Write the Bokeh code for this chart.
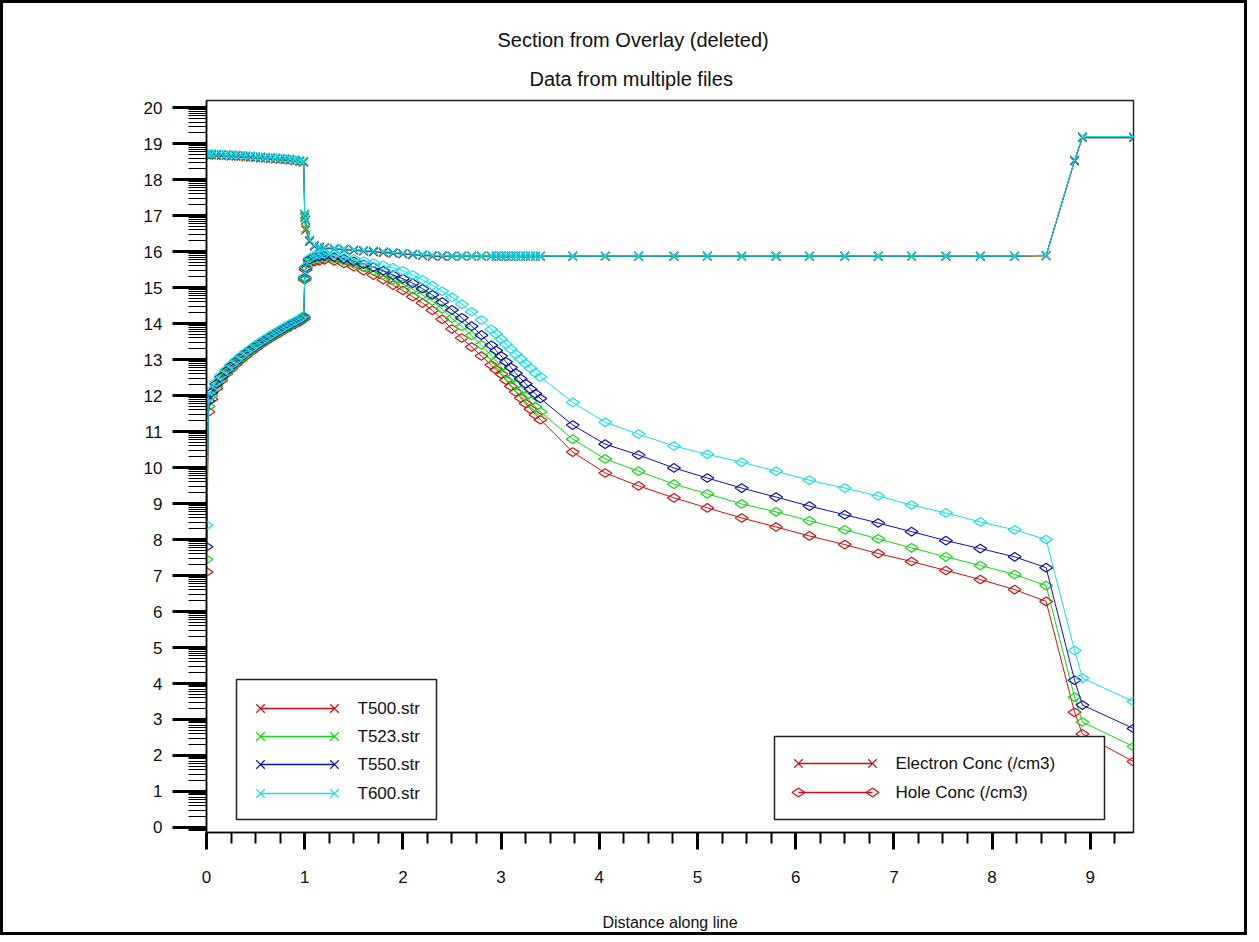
import math
from bokeh.plotting import figure
from bokeh.models import Range1d, FixedTicker, Title
from bokeh.core.properties import value
from bokeh.embed import file_html
from bokeh.resources import INLINE

# ---------------- data ----------------
FILES = ["T500.str", "T523.str", "T550.str", "T600.str"]
QUANTITIES = ["Electron Conc (/cm3)", "Hole Conc (/cm3)"]
TITLE_1 = "Section from Overlay (deleted)"
TITLE_2 = "Data from multiple files"

X = [0.0, 0.0, 0.02, 0.05, 0.1, 0.15, 0.2, 0.25, 0.3, 0.35, 0.4, 0.45, 0.5, 0.55, 0.6, 0.65, 0.7, 0.75, 0.8, 0.85, 0.9, 0.95, 0.99,
     1.0, 1.01, 1.05, 1.1, 1.15, 1.2, 1.3, 1.4, 1.5, 1.6, 1.7, 1.8, 1.9, 2.0, 2.1, 2.2, 2.3, 2.4, 2.5, 2.6, 2.7, 2.8, 2.9,
     2.95, 3.0, 3.05, 3.1, 3.15, 3.2, 3.25, 3.3, 3.35, 3.4,
     3.73, 4.06, 4.4, 4.76, 5.1, 5.45, 5.8, 6.14, 6.5, 6.84, 7.18, 7.53, 7.88, 8.23, 8.55,
     8.84, 8.92, 9.44]

ELEC_T600 = [0.0, 18.72, 18.72, 18.72, 18.71, 18.71, 18.70, 18.69, 18.69, 18.68, 18.67, 18.66, 18.65, 18.64, 18.63, 18.62, 18.61, 18.60, 18.59, 18.58, 18.56, 18.54, 18.52,
             17.05, 16.90, 16.32, 16.18, 16.14, 16.12, 16.10, 16.08, 16.06, 16.04, 16.02, 16.00, 15.98, 15.96, 15.94, 15.92, 15.90, 15.89, 15.88, 15.88, 15.88, 15.88, 15.88,
             15.88, 15.88, 15.88, 15.88, 15.88, 15.88, 15.88, 15.88, 15.88, 15.88,
             15.88, 15.88, 15.88, 15.88, 15.88, 15.88, 15.88, 15.88, 15.88, 15.88, 15.88, 15.88, 15.88, 15.88, 15.90,
             18.55, 19.20, 19.20]
ELEC_T550 = [0.0, 18.71, 18.71, 18.71, 18.70, 18.70, 18.69, 18.68, 18.68, 18.67, 18.66, 18.65, 18.64, 18.63, 18.62, 18.61, 18.60, 18.59, 18.58, 18.57, 18.55, 18.53, 18.51,
             17.04, 16.88, 16.31, 16.17, 16.13, 16.11, 16.09, 16.07, 16.05, 16.03, 16.01, 15.99, 15.97, 15.95, 15.93, 15.91, 15.89, 15.88, 15.88, 15.88, 15.88, 15.88, 15.88,
             15.88, 15.88, 15.88, 15.88, 15.88, 15.88, 15.88, 15.88, 15.88, 15.88,
             15.88, 15.88, 15.88, 15.88, 15.88, 15.88, 15.88, 15.88, 15.88, 15.88, 15.88, 15.88, 15.88, 15.88, 15.90,
             18.54, 19.19, 19.19]
ELEC_T523 = [0.0, 18.70, 18.70, 18.70, 18.69, 18.69, 18.68, 18.67, 18.67, 18.66, 18.65, 18.64, 18.63, 18.62, 18.61, 18.60, 18.59, 18.58, 18.57, 18.56, 18.54, 18.52, 18.50,
             16.98, 16.65, 16.30, 16.17, 16.13, 16.11, 16.09, 16.07, 16.05, 16.03, 16.01, 15.99, 15.97, 15.95, 15.93, 15.91, 15.89, 15.88, 15.87, 15.87, 15.87, 15.87, 15.87,
             15.87, 15.87, 15.87, 15.87, 15.87, 15.87, 15.87, 15.87, 15.87, 15.87,
             15.87, 15.87, 15.87, 15.87, 15.87, 15.87, 15.87, 15.87, 15.87, 15.87, 15.87, 15.87, 15.87, 15.87, 15.89,
             18.53, 19.18, 19.18]
ELEC_T500 = [0.0, 18.68, 18.68, 18.68, 18.67, 18.67, 18.66, 18.65, 18.65, 18.64, 18.63, 18.62, 18.61, 18.60, 18.59, 18.58, 18.57, 18.56, 18.55, 18.54, 18.52, 18.50, 18.48,
             16.95, 16.60, 16.28, 16.15, 16.11, 16.09, 16.07, 16.05, 16.03, 16.01, 15.99, 15.97, 15.95, 15.93, 15.91, 15.89, 15.87, 15.87, 15.87, 15.87, 15.87, 15.87, 15.87,
             15.87, 15.87, 15.87, 15.87, 15.87, 15.87, 15.87, 15.87, 15.87, 15.87,
             15.87, 15.87, 15.87, 15.87, 15.87, 15.87, 15.87, 15.87, 15.87, 15.87, 15.87, 15.87, 15.87, 15.87, 15.88,
             18.52, 19.16, 19.16]

HOLE_T600 = [0.0, 8.40, 11.95, 12.15, 12.38, 12.57, 12.72, 12.86, 12.98, 13.10, 13.21, 13.31, 13.41, 13.50, 13.59, 13.68, 13.76, 13.84, 13.92, 14.00, 14.07, 14.14, 14.22,
             15.30, 15.58, 15.82, 15.90, 15.93, 15.94, 15.92, 15.87, 15.80, 15.74, 15.68, 15.62, 15.55, 15.47, 15.35, 15.22, 15.06, 14.90, 14.73, 14.54, 14.33, 14.10, 13.84,
             13.71, 13.57, 13.43, 13.29, 13.15, 13.02, 12.89, 12.76, 12.63, 12.52,
             11.81, 11.26, 10.93, 10.60, 10.37, 10.15, 9.90, 9.65, 9.43, 9.21, 8.96, 8.74, 8.49, 8.27, 8.00,
             4.92, 4.15, 3.50]
HOLE_T550 = [0.0, 7.80, 11.85, 12.08, 12.32, 12.52, 12.68, 12.82, 12.95, 13.07, 13.18, 13.28, 13.38, 13.47, 13.56, 13.65, 13.73, 13.81, 13.89, 13.97, 14.04, 14.11, 14.19,
             15.28, 15.56, 15.78, 15.85, 15.87, 15.88, 15.85, 15.80, 15.73, 15.65, 15.57, 15.47, 15.35, 15.25, 15.12, 14.97, 14.80, 14.60, 14.38, 14.16, 13.93, 13.68, 13.40,
             13.25, 13.10, 12.94, 12.78, 12.62, 12.47, 12.33, 12.18, 12.05, 11.92,
             11.18, 10.65, 10.35, 9.99, 9.71, 9.43, 9.18, 8.93, 8.69, 8.46, 8.22, 7.97, 7.75, 7.52, 7.22,
             4.09, 3.40, 2.75]
HOLE_T523 = [0.0, 7.45, 11.70, 12.00, 12.26, 12.47, 12.64, 12.78, 12.91, 13.03, 13.14, 13.25, 13.35, 13.44, 13.53, 13.62, 13.70, 13.78, 13.86, 13.94, 14.01, 14.08, 14.16,
             15.25, 15.54, 15.74, 15.80, 15.82, 15.83, 15.80, 15.74, 15.66, 15.56, 15.46, 15.35, 15.22, 15.10, 14.95, 14.80, 14.63, 14.41, 14.15, 13.92, 13.67, 13.41, 13.12,
             12.96, 12.80, 12.63, 12.47, 12.30, 12.14, 11.99, 11.84, 11.69, 11.55,
             10.79, 10.24, 9.90, 9.54, 9.27, 8.99, 8.77, 8.52, 8.27, 8.02, 7.77, 7.52, 7.28, 7.03, 6.72,
             3.62, 2.93, 2.25]
HOLE_T500 = [0.0, 7.10, 11.55, 11.90, 12.20, 12.42, 12.60, 12.74, 12.87, 12.99, 13.10, 13.21, 13.31, 13.41, 13.50, 13.59, 13.67, 13.75, 13.83, 13.91, 13.98, 14.05, 14.13,
             15.22, 15.50, 15.68, 15.72, 15.75, 15.77, 15.74, 15.67, 15.58, 15.47, 15.35, 15.22, 15.07, 14.92, 14.75, 14.57, 14.37, 14.12, 13.85, 13.60, 13.35, 13.10, 12.85,
             12.72, 12.60, 12.43, 12.26, 12.10, 11.93, 11.78, 11.62, 11.47, 11.33,
             10.43, 9.85, 9.49, 9.16, 8.88, 8.60, 8.35, 8.10, 7.86, 7.61, 7.39, 7.14, 6.89, 6.61, 6.28,
             3.20, 2.60, 1.83]

ELEC = [ELEC_T500, ELEC_T523, ELEC_T550, ELEC_T600]
HOLE = [HOLE_T500, HOLE_T523, HOLE_T550, HOLE_T600]

X_TICKS = [0, 1, 2, 3, 4, 5, 6, 7, 8, 9]
Y_TICKS = list(range(0, 21))

# ---------------- style ----------------
COLORS = ["#d01010", "#10dc10", "#1010b4", "#10e4e4"]
FONT = "Liberation Sans"
FS = "17px"
X_END = 9.44
Y_START, Y_END = -0.14, 20.2
# frame in page pixels (outer border 3px)
FL, FR, FT, FB = 206, 1133, 100, 832


def dx(px):
    return (px - FL) / (FR - FL) * X_END


def dy(py):
    return Y_START + (FB - py) / (FB - FT) * (Y_END - Y_START)


p = figure(width=1247, height=935, output_backend="svg", toolbar_location=None,
           x_range=Range1d(0, X_END), y_range=Range1d(Y_START, Y_END),
           min_border_left=FL - 3, min_border_right=1250 - FR,
           min_border_top=FT - 3, min_border_bottom=938 - FB)
p.styles = {"border": "3px solid black"}
p.xgrid.visible = False
p.ygrid.visible = False
p.outline_line_color = "#222222"
p.outline_line_width = 1.5
p.background_fill_color = "white"
p.border_fill_color = "white"

x_minor = [t + q for t in range(0, 10) for q in (0.25, 0.5, 0.75)]
p.xaxis.ticker = FixedTicker(ticks=X_TICKS, minor_ticks=x_minor)
y_minor = [n + math.log10(k) for n in range(-1, 20) for k in range(2, 10)]
p.yaxis.ticker = FixedTicker(ticks=Y_TICKS, minor_ticks=y_minor)

for ax in (p.xaxis[0], p.yaxis[0]):
    ax.axis_line_color = "black"
    ax.axis_line_width = 1.5
    ax.major_tick_in = 0
    ax.minor_tick_in = 0
    ax.major_tick_line_color = "black"
    ax.minor_tick_line_color = "black"
    ax.major_label_text_font = FONT
    ax.major_label_text_font_size = FS
    ax.major_label_text_color = "#111111"

p.xaxis.major_tick_out = 17
p.xaxis.minor_tick_out = 11
p.xaxis.major_tick_line_width = 3
p.xaxis.minor_tick_line_width = 2
p.xaxis.major_label_standoff = 21
p.xaxis.axis_label = "Distance along line"
p.xaxis.axis_label_text_font = FONT
p.xaxis.axis_label_text_font_size = "16px"
p.xaxis.axis_label_text_font_style = "normal"
p.xaxis.axis_label_text_color = "#111111"
p.xaxis.axis_label_standoff = 28

p.yaxis.major_tick_out = 34
p.yaxis.minor_tick_out = 18
p.yaxis.major_tick_line_width = 3
p.yaxis.minor_tick_line_width = 1
p.yaxis.major_label_standoff = 10

# ---------------- titles (first added sits nearest the frame) ----------------
p.add_layout(Title(text=TITLE_2, align="left", offset=323, standoff=21,
                   text_font=FONT, text_font_size="20px", text_font_style="normal",
                   text_color="#111111"), "above")
p.add_layout(Title(text=TITLE_1, align="left", offset=291, standoff=10,
                   text_font=FONT, text_font_size="20px", text_font_style="normal",
                   text_color="#111111"), "above")

# ---------------- data curves ----------------
for c, e, h in zip(COLORS, ELEC, HOLE):
    p.line(X, e, line_color=c, line_width=1)
    p.scatter(X[1:], e[1:], marker="x", size=12, line_color=c, line_width=1.2)
    p.line(X, h, line_color=c, line_width=1)
    p.scatter(X[1:], h[1:], marker="diamond", size=13, angle=math.pi / 2,
              line_color=c, fill_color=None, line_width=1.2)

# ---------------- legend 1 (files) ----------------
p.quad(left=[dx(236)], right=[dx(436)], top=[dy(679)], bottom=[dy(819)],
       fill_color="white", line_color="#222222", line_width=1.5)
ly = [708, 736, 764, 793]
for c, name, yy in zip(COLORS, FILES, ly):
    p.line([dx(260), dx(334)], [dy(yy), dy(yy)], line_color=c, line_width=1.5)
    p.scatter([dx(260), dx(334)], [dy(yy), dy(yy)], marker="x", size=12, line_color=c, line_width=1.2)
    p.text([dx(357)], [dy(yy)], text=[name], text_font=value(FONT), text_font_size=value(FS),
           text_baseline="middle", text_align="left", text_color="#111111")

# ---------------- legend 2 (quantities) ----------------
p.quad(left=[dx(774)], right=[dx(1104)], top=[dy(736)], bottom=[dy(819)],
       fill_color="white", line_color="#222222", line_width=1.5)
for name, yy, mk in zip(QUANTITIES, [763, 792], ["x", "diamond"]):
    p.line([dx(798), dx(872)], [dy(yy), dy(yy)], line_color=COLORS[0], line_width=1.5)
    if mk == "x":
        p.scatter([dx(798), dx(872)], [dy(yy), dy(yy)], marker="x", size=12,
                  line_color=COLORS[0], line_width=1.2)
    else:
        p.scatter([dx(798), dx(872)], [dy(yy), dy(yy)], marker="diamond", size=13, angle=math.pi / 2,
                  line_color=COLORS[0], fill_color=None, line_width=1.2)
    p.text([dx(895)], [dy(yy)], text=[name], text_font=value(FONT), text_font_size=value(FS),
           text_baseline="middle", text_align="left", text_color="#111111")

open("out.html", "w").write(file_html(p, INLINE))
